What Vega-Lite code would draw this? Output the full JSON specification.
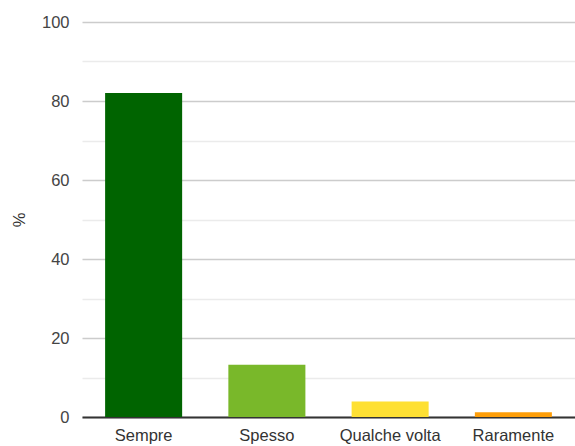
{
  "$schema": "https://vega.github.io/schema/vega-lite/v6.json",
  "width": 493,
  "height": 395,
  "autosize": "none",
  "padding": {"left": 82, "top": 22, "right": 0, "bottom": 29},
  "config": {
    "view": {"stroke": null},
    "font": "Liberation Sans",
    "axis": {"labelFont": "Liberation Sans", "titleFont": "Liberation Sans"}
  },
  "data": {
    "values": [
      {"cat": "Sempre", "pct": 82.0, "col": "#006400"},
      {"cat": "Spesso", "pct": 13.2, "col": "#79b82a"},
      {"cat": "Qualche volta", "pct": 3.9, "col": "#fee033"},
      {"cat": "Raramente", "pct": 1.2, "col": "#fe9e08"}
    ]
  },
  "mark": {"type": "bar"},
  "encoding": {
    "x": {
      "field": "cat",
      "type": "nominal",
      "sort": null,
      "scale": {"paddingInner": 0.375, "paddingOuter": 0.1875},
      "axis": {
        "title": null,
        "labelAngle": 0,
        "labelFontSize": 16.5,
        "labelColor": "#333333",
        "labelPadding": 10,
        "ticks": false,
        "domainColor": "#333333",
        "domainWidth": 2,
        "grid": false
      }
    },
    "y": {
      "field": "pct",
      "type": "quantitative",
      "scale": {"domain": [0, 100], "nice": false},
      "axis": {
        "title": "%",
        "titleFontSize": 16.5,
        "titleFontWeight": "normal",
        "titleColor": "#333333",
        "titlePadding": 14,
        "values": [0, 10, 20, 30, 40, 50, 60, 70, 80, 90, 100],
        "labelExpr": "datum.value % 20 === 0 ? datum.label : ''",
        "labelFontSize": 16.5,
        "labelColor": "#444444",
        "labelPadding": 13,
        "ticks": false,
        "domain": false,
        "grid": true,
        "gridColor": {"condition": {"test": "datum.value % 20 === 0", "value": "#cccccc"}, "value": "#ebebeb"},
        "gridWidth": 1.5
      }
    },
    "color": {"field": "col", "type": "nominal", "scale": null, "legend": null}
  }
}
